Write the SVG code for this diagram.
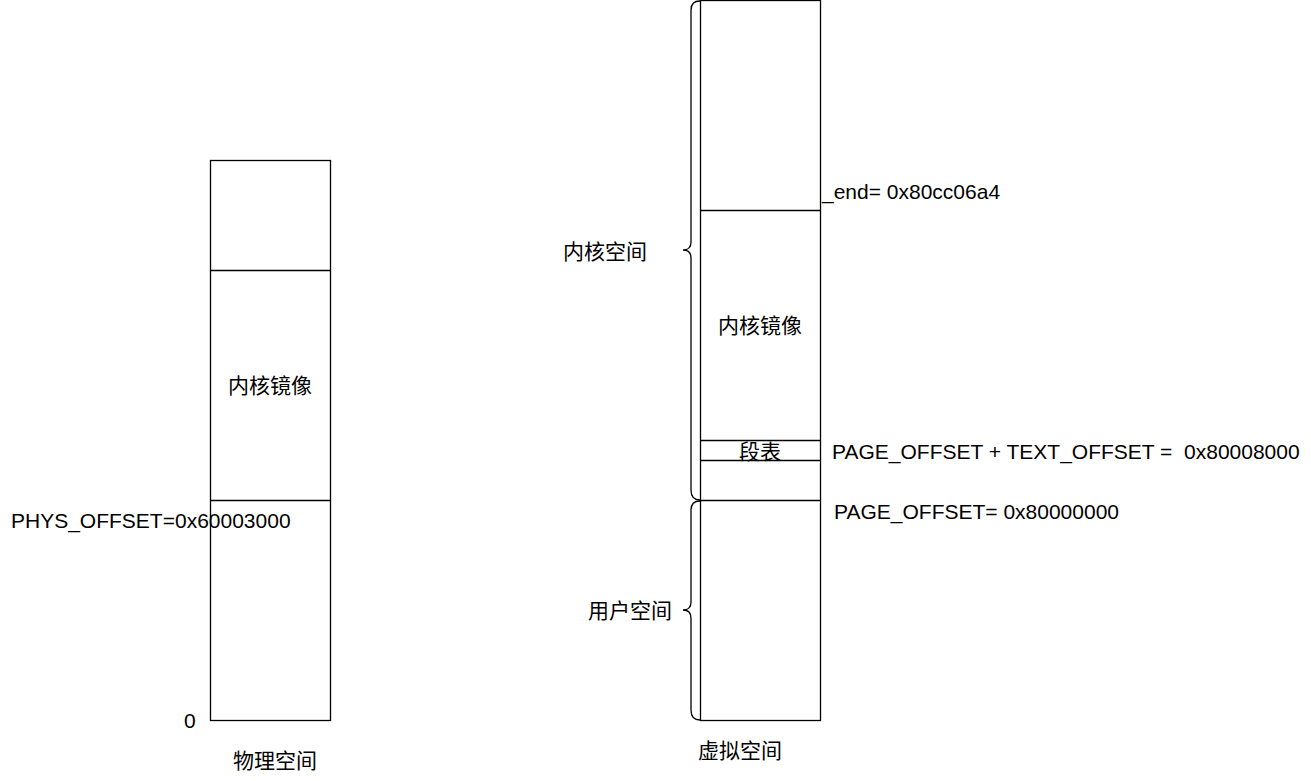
<svg xmlns="http://www.w3.org/2000/svg" width="1311" height="781" viewBox="0 0 1311 781">
<style>
.box{fill:#fff;stroke:#000;stroke-width:1.3}
.ln{stroke:#000;stroke-width:1.3;fill:none}
.br{stroke:#000;stroke-width:1.3;fill:none}
text{font-family:"Liberation Sans","Noto Sans CJK SC",sans-serif;font-size:21px;fill:#000;dominant-baseline:central}
.c{text-anchor:middle}
</style>
<rect width="1311" height="781" fill="#fff"/>
<g id="phys">
<rect class="box" x="210.5" y="160.5" width="120" height="560"/>
<line class="ln" x1="210.5" y1="270.5" x2="330.5" y2="270.5"/>
<line class="ln" x1="210.5" y1="500.5" x2="330.5" y2="500.5"/>
<text class="c" x="270" y="385">内核镜像</text>
</g>
<g id="virt">
<rect class="box" x="700.5" y="0.5" width="120" height="720"/>
<line class="ln" x1="700.5" y1="210.5" x2="820.5" y2="210.5"/>
<line class="ln" x1="700.5" y1="440.5" x2="820.5" y2="440.5"/>
<line class="ln" x1="700.5" y1="460.5" x2="820.5" y2="460.5"/>
<line class="ln" x1="700.5" y1="500.5" x2="820.5" y2="500.5"/>
<text class="c" x="760" y="325">内核镜像</text>
<text class="c" x="760" y="451">段表</text>
</g>
<g id="braces">
<path class="br" d="M700 1 Q691 1 691 10 L691 242 Q691 250 683 250 Q691 250 691 258 L691 490 Q691 500 700 500"/>
<path class="br" d="M700 501 Q691 501 691 510 L691 602 Q691 610 683 610 Q691 610 691 618 L691 710 Q691 720 700 720"/>
</g>
<g id="labels">
<text x="563" y="251">内核空间</text>
<text x="588" y="610">用户空间</text>
<text x="822" y="191">_end= 0x80cc06a4</text>
<text x="832" y="451" xml:space="preserve">PAGE_OFFSET + TEXT_OFFSET =  0x80008000</text>
<text x="834" y="511">PAGE_OFFSET= 0x80000000</text>
<text x="11" y="520">PHYS_OFFSET=0x60003000</text>
<text x="184" y="720">0</text>
<text class="c" x="275" y="760">物理空间</text>
<text class="c" x="740" y="750">虚拟空间</text>
</g>
</svg>
